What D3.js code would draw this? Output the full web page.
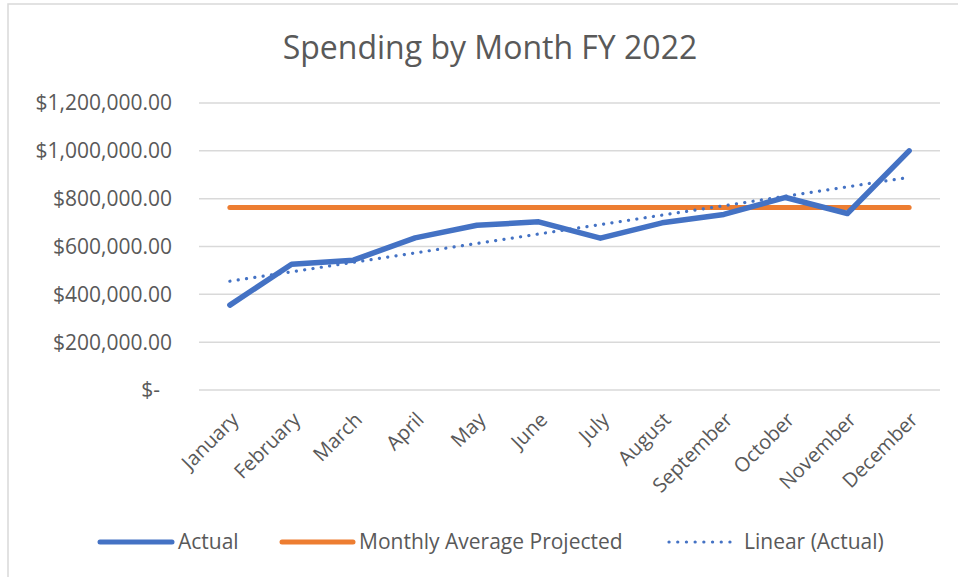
<!DOCTYPE html>
<html>
<head>
  <title>Spending by Month FY 2022</title>
  <style>
    body {
      margin: 0;
      padding: 0;
      background-color: #fff;
      overflow: hidden;
    }
    text {
      font-family: "Open Sans", Arial, sans-serif;
      fill: #595959;
    }
  </style>
</head>
<body>
  <div id="chart"></div>

  <script src="https://d3js.org/d3.v7.min.js"></script>
  <script>
    const months = ['January', 'February', 'March', 'April', 'May', 'June',
      'July', 'August', 'September', 'October', 'November', 'December'];
    const actual = [355000, 526000, 543000, 636000, 689000, 703000,
      635000, 699000, 734000, 805000, 738000, 1000000];
    const projected = [763000, 763000, 763000, 763000, 763000, 763000,
      763000, 763000, 763000, 763000, 763000, 763000];
    const yTicks = [0, 200000, 400000, 600000, 800000, 1000000, 1200000];
    const legendLabels = ['Actual', 'Monthly Average Projected', 'Linear (Actual)'];

    // least squares trend of the actual series, like Excel's linear trendline
    const n = actual.length;
    const mx = (n - 1) / 2;
    const my = d3.mean(actual);
    const slope = d3.sum(actual, (v, i) => (i - mx) * (v - my)) / d3.sum(actual, (v, i) => (i - mx) ** 2);
    const trend = actual.map((v, i) => my + slope * (i - mx));

    const width = 958, height = 577;
    const svg = d3.select('#chart').append('svg')
      .attr('width', width).attr('height', height);

    // chart area border (left and top visible in the crop)
    svg.append('rect')
      .attr('x', 8).attr('y', 4)
      .attr('width', 1000).attr('height', 600)
      .attr('fill', '#fff')
      .attr('stroke', '#d9d9d9').attr('stroke-width', 1.5);

    svg.append('text')
      .attr('x', 490).attr('y', 59)
      .attr('text-anchor', 'middle')
      .style('font-size', '32px')
      .text('Spending by Month FY 2022');

    const x = d3.scalePoint().domain(months).range([199, 940]).padding(0.5);
    const y = d3.scaleLinear().domain([0, 1200000]).range([390, 103]);

    const money = d3.format('$,.2f');

    // gridlines
    svg.append('g')
      .selectAll('line')
      .data(yTicks)
      .join('line')
      .attr('x1', 199).attr('x2', 940)
      .attr('y1', d => y(d)).attr('y2', d => y(d))
      .attr('stroke', '#d9d9d9').attr('stroke-width', 1.5);

    // y axis labels
    svg.append('g')
      .selectAll('text')
      .data(yTicks)
      .join('text')
      .attr('x', d => d === 0 ? 160 : 172)
      .attr('y', d => y(d))
      .attr('dy', '0.35em')
      .attr('text-anchor', 'end')
      .style('font-size', '21px')
      .text(d => d === 0 ? '$-' : money(d));

    // x axis labels
    svg.append('g')
      .selectAll('text')
      .data(months)
      .join('text')
      .attr('transform', d => `translate(${x(d) + 5},${416}) rotate(-45)`)
      .attr('dy', '0.35em')
      .attr('text-anchor', 'end')
      .style('font-size', '20px')
      .text(d => d);

    const line = d3.line().x((d, i) => x(months[i])).y(d => y(d));

    svg.append('path')
      .datum(projected)
      .attr('d', line)
      .attr('fill', 'none')
      .attr('stroke', '#ed7d31').attr('stroke-width', 5)
      .attr('stroke-linecap', 'round');

    svg.append('path')
      .datum(actual)
      .attr('d', line)
      .attr('fill', 'none')
      .attr('stroke', '#4472c4').attr('stroke-width', 5.5)
      .attr('stroke-linecap', 'round').attr('stroke-linejoin', 'round');

    svg.append('path')
      .datum(trend)
      .attr('d', line)
      .attr('fill', 'none')
      .attr('stroke', '#4472c4').attr('stroke-width', 3.2)
      .attr('stroke-linecap', 'round')
      .attr('stroke-dasharray', '0.1 8.3');

    // legend
    const legendItems = [
      { label: legendLabels[0], x1: 100, x2: 172, color: '#4472c4', w: 5, dash: null },
      { label: legendLabels[1], x1: 282, x2: 353, color: '#ed7d31', w: 5, dash: null },
      { label: legendLabels[2], x1: 669, x2: 738, color: '#4472c4', w: 3.2, dash: '0.1 8.6' }
    ];
    const legend = svg.append('g').selectAll('g')
      .data(legendItems)
      .join('g');
    legend.append('line')
      .attr('x1', d => d.x1).attr('x2', d => d.x2)
      .attr('y1', 542).attr('y2', 542)
      .attr('stroke', d => d.color).attr('stroke-width', d => d.w)
      .attr('stroke-linecap', 'round')
      .attr('stroke-dasharray', d => d.dash);
    legend.append('text')
      .attr('x', d => d.x2 + 6)
      .attr('y', 542)
      .attr('dy', '0.35em')
      .style('font-size', '21px')
      .text(d => d.label);
  </script>
</body>
</html>
